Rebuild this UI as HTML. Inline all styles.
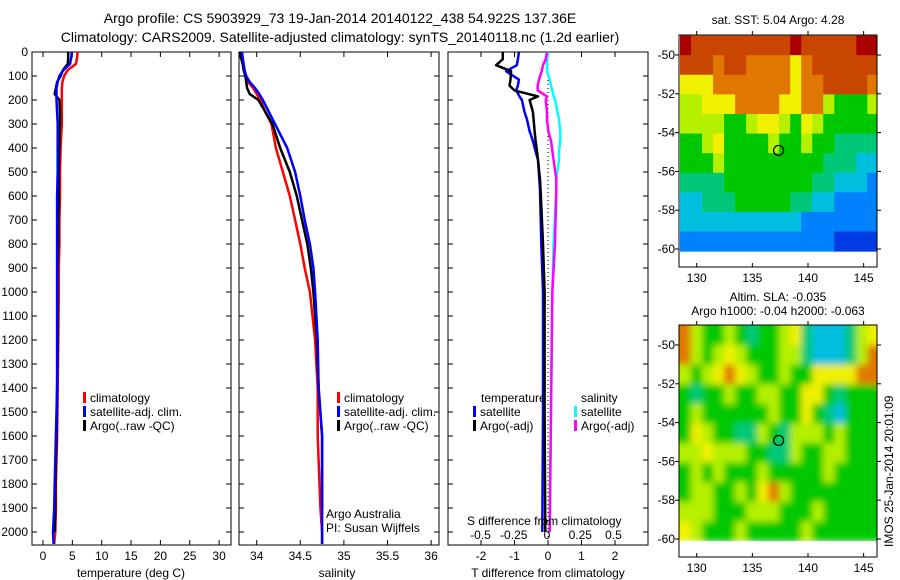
<!DOCTYPE html>
<html><head><meta charset="utf-8"><style>
body{margin:0;background:#fff}
svg{display:block;font-family:"Liberation Sans",sans-serif}
text{font-size:12px;fill:#000}
</style></head><body>
<svg id="c" width="900" height="580" viewBox="0 0 900 580">
<defs>
<filter id="blur" x="-5%" y="-5%" width="110%" height="110%"><feGaussianBlur stdDeviation="3.5"/></filter>
<clipPath id="clipSla"><rect x="679" y="325" width="198" height="232"/></clipPath>
</defs>
<text x="340" y="23" text-anchor="middle" style="font-size:14px">Argo profile: CS 5903929_73 19-Jan-2014 20140122_438 54.922S 137.36E</text>
<text x="340" y="42" text-anchor="middle" style="font-size:14px">Climatology: CARS2009. Satellite-adjusted climatology: synTS_20140118.nc (1.2d earlier)</text>
<text x="778" y="24" text-anchor="middle">sat. SST: 5.04  Argo: 4.28</text>
<text x="778" y="301" text-anchor="middle">Altim. SLA: -0.035</text>
<text x="778" y="315" text-anchor="middle">Argo h1000: -0.04 h2000: -0.063</text>
<text transform="translate(893,547) rotate(-90)">IMOS 25-Jan-2014 20:01:09</text>
</svg>
<script>
// ---- data ----
const depths=[0,25,50,75,100,125,150,175,200,250,300,400,500,600,700,800,900,1000,1200,1400,1600,1800,1900,2000,2050];
const tClim=[5.9,5.8,5.6,4.2,3.6,3.3,3.2,3.2,3.2,3.2,3.2,3.0,2.9,2.9,2.8,2.8,2.7,2.7,2.6,2.5,2.4,2.2,2.2,2.1,1.9];
const tSat=[4.9,4.8,4.6,3.5,2.8,2.5,2.3,2.3,2.3,2.4,2.5,2.5,2.5,2.4,2.4,2.4,2.4,2.4,2.4,2.4,2.2,2.0,1.9,1.7,1.8];
const tArgo=[4.3,4.3,4.2,3.4,3.0,2.4,2.2,2.0,2.8,2.9,2.9,2.8,2.7,2.7,2.6,2.6,2.5,2.5,2.5,2.4,2.3,2.1,2.1,2.0,null];
const sClim=[33.83,33.84,33.85,33.86,33.87,33.9,33.96,34.0,34.04,34.1,34.17,34.22,34.30,34.38,34.44,34.50,34.55,34.61,34.67,34.70,34.70,34.72,34.73,34.75,34.75];
const sSat=[33.83,33.84,33.85,33.86,33.88,33.92,33.98,34.03,34.07,34.14,34.21,34.35,34.44,34.50,34.55,34.61,34.65,34.67,34.70,34.71,34.75,34.75,34.75,34.75,34.75];
const sArgo=[33.8,33.82,33.84,33.85,33.87,33.88,33.89,33.92,34.02,34.10,34.18,34.27,34.38,34.46,34.52,34.58,34.62,34.65,34.69,34.71,34.75,34.75,34.75,null,null];
const dDepths=[0,30,55,80,115,140,160,185,200,250,280,330,370,410,450,530,575,800,1000,1500,2000];
const dTSat=[-0.87,-0.9,-0.93,-1.25,-0.87,-0.9,-0.95,-0.85,-0.78,-0.7,-0.63,-0.55,-0.45,-0.38,-0.3,-0.26,-0.24,-0.2,-0.15,-0.15,-0.17];
const dTArgo=[-1.35,-1.35,-1.55,-1.1,-1.12,-1.15,-1.0,-0.3,-0.55,-0.45,-0.43,-0.4,-0.37,-0.33,-0.3,-0.24,-0.22,-0.15,-0.1,-0.1,-0.08];
const dSSat=[0.01,0.0,0.0,0.0,0.02,0.03,0.04,0.05,0.06,0.08,0.09,0.1,0.1,0.09,0.09,0.07,0.07,0.05,0.04,0.03,0.02];
const dSArgo=[0.0,-0.01,-0.03,-0.04,-0.06,-0.07,-0.07,0.0,-0.01,0.0,0.0,0.01,0.03,0.04,0.05,0.07,0.07,0.06,0.04,0.03,0.02];
const depthTicks=[0,100,200,300,400,500,600,700,800,900,1000,1100,1200,1300,1400,1500,1600,1700,1800,1900,2000];
const tTicks=[0,5,10,15,20,25,30];
const sTicks=[34,34.5,35,35.5,36];
const sTickLabels=["34","34.5","35","35.5","36"];
const dTTicks=[-2,-1,0,1,2];
const dSTicks=[-0.5,-0.25,0,0.25,0.5];
const dSTickLabels=["-0.5","-0.25","0","0.25","0.5"];
const lonTicks=[130,135,140,145];
const latTicks=[-50,-52,-54,-56,-58,-60];
const sstGrid=[
[10,9,9,9,9,9,9,9,9,9,10,9,9,9,9,9,10,10],
[9,9,9,8,9,9,8,8,8,8,7,8,9,9,9,9,9,9],
[7,7,7,8,8,8,8,8,8,8,7,8,8,9,9,9,9,8],
[6,6,7,7,7,8,8,8,8,7,7,8,8,6,5,5,5,6],
[6,6,6,6,5,5,6,7,7,6,5,7,6,5,5,5,5,5],
[5,5,6,7,5,5,5,5,6,5,5,6,5,5,4,4,4,4],
[5,5,5,6,5,5,5,5,5,5,5,5,5,4,4,4,3,3],
[4,4,4,4,5,5,5,5,5,5,5,5,4,4,3,3,3,2],
[3,3,4,4,4,5,5,5,5,5,4,4,3,3,2,2,2,2],
[3,3,3,3,3,3,3,3,3,3,3,2,2,2,2,2,2,2],
[2,2,2,2,2,2,2,2,2,2,2,2,2,2,1,1,1,1]];
const slaGrid=[
[8,6,5,5,6,5,4,5,5,6,7,4,3,3,3,4,6,7],
[8,6,5,6,7,6,5,5,5,6,6,4,3,3,3,4,6,8],
[6,5,6,7,8,7,6,5,5,6,5,5,7,7,7,7,8,8],
[5,4,5,5,6,5,5,6,6,5,5,7,7,5,4,5,5,5],
[5,6,5,5,5,5,5,5,6,5,5,7,5,4,3,5,5,5],
[5,7,6,5,5,4,4,6,5,4,6,6,6,5,6,5,5,5],
[6,6,7,6,6,6,5,5,4,4,6,5,5,6,6,5,5,5],
[5,6,5,6,5,5,5,6,5,5,5,5,5,6,5,5,5,5],
[5,6,6,5,5,6,5,7,8,6,5,5,5,5,5,5,5,5],
[6,6,6,5,5,5,6,6,6,5,5,5,6,5,5,5,5,5],
[7,6,5,5,5,6,5,5,5,5,5,6,5,5,5,5,5,5]];
const argoLon=137.36, argoLat=-54.92;
const gridLon0=128.5, gridLat0=-49, gridStep=[0.99,1.01];

const svg=document.getElementById('c');
const NS='http://www.w3.org/2000/svg';
function mk(t,a,p){const e=document.createElementNS(NS,t);for(const k in a)e.setAttribute(k,a[k]);(p||svg).appendChild(e);return e;}
const cmap=['#0000a0','#003ce6','#0082ff','#00bede','#00c878','#00c800','#b4f000','#f0f000','#e07800','#c84600','#aa0000'];

const pTop=52, depthY=d=>pTop+d*0.24;
const panels=[
 {x0:32,x1:231,fx:v=>43+v*5.87,name:'temperature-panel'},
 {x0:239,x1:439,fx:v=>256.7+(v-34)*87.2,name:'salinity-panel'},
 {x0:448,x1:648,fx:v=>548+v*33.5,name:'difference-panel'}];
const pBottom=545;
function line(p,ds,vs,col,name,w,fx){
 let d='';let pen=false;
 ds.forEach((dd,i)=>{if(vs[i]==null){pen=false;return;}d+=(pen?'L':'M')+fx(vs[i]).toFixed(1)+','+depthY(dd).toFixed(1);pen=true;});
 const e=mk('path',{d:d,fill:'none',stroke:col,'stroke-width':w||2.5,'stroke-linejoin':'round'});
 
 
}
panels.forEach((p,pi)=>{
 const r=mk('rect',{x:p.x0,y:pTop,width:p.x1-p.x0,height:pBottom-pTop,fill:'none',stroke:'#000','stroke-width':1});
 
 
 depthTicks.forEach(d=>{const y=depthY(d);mk('line',{x1:p.x0,x2:p.x0+5,y1:y,y2:y,stroke:'#000'});mk('line',{x1:p.x1-5,x2:p.x1,y1:y,y2:y,stroke:'#000'});
  if(pi==0){const t=mk('text',{x:28,y:y+4,'text-anchor':'end'});t.textContent=d;}});
});
const fT=panels[0].fx;
tTicks.forEach(v=>{const x=fT(v);mk('line',{x1:x,x2:x,y1:pBottom,y2:pBottom-5,stroke:'#000'});mk('line',{x1:x,x2:x,y1:pTop,y2:pTop+5,stroke:'#000'});
 const t=mk('text',{x:x,y:560,'text-anchor':'middle'});t.textContent=v;});
line(0,depths,tClim,'#f00','temp-climatology-line',2.5,fT);
line(0,depths,tArgo,'#000','temp-argo-line',2.5,fT);
line(0,depths,tSat,'#00f','temp-satellite-line',2.5,fT);
const fS=panels[1].fx;
sTicks.forEach((v,i)=>{const x=fS(v);mk('line',{x1:x,x2:x,y1:pBottom,y2:pBottom-5,stroke:'#000'});mk('line',{x1:x,x2:x,y1:pTop,y2:pTop+5,stroke:'#000'});
 const t=mk('text',{x:x,y:560,'text-anchor':'middle'});t.textContent=sTickLabels[i];});
line(1,depths,sClim,'#f00','salinity-climatology-line',2.5,fS);
line(1,depths,sArgo,'#000','salinity-argo-line',2.5,fS);
line(1,depths,sSat,'#00f','salinity-satellite-line',2.5,fS);
const fD=panels[2].fx, fDS=v=>547+v*133;
dTTicks.forEach(v=>{const x=fD(v);mk('line',{x1:x,x2:x,y1:pBottom,y2:pBottom-5,stroke:'#000'});mk('line',{x1:x,x2:x,y1:pTop,y2:pTop+5,stroke:'#000'});
 const t=mk('text',{x:x,y:560,'text-anchor':'middle'});t.textContent=v;});
dSTicks.forEach((v,i)=>{const t=mk('text',{x:fDS(v),y:539,'text-anchor':'middle'});t.textContent=dSTickLabels[i];});
mk('line',{x1:fD(0),x2:fD(0),y1:pTop,y2:pBottom,stroke:'#000','stroke-dasharray':'1,3'});
line(2,dDepths,dTSat,'#00f','tdiff-satellite-line',2.5,fD);
line(2,dDepths,dTArgo,'#000','tdiff-argo-line',2.5,fD);
line(2,dDepths,dSSat,'#0ff','sdiff-satellite-line',2.5,fDS);
line(2,dDepths,dSArgo,'#f0f','sdiff-argo-line',2.5,fDS);

function txt(x,y,s,name,anchor){const t=mk('text',{x:x,y:y,'text-anchor':anchor||'start'});t.textContent=s;return t;}
function leg(x,y,col,s,name){mk('rect',{x:x,y:y-10,width:3,height:11,fill:col});txt(x+7,y,s,name);}
leg(83,402,'#f00','climatology','legend-climatology');
leg(83,416,'#00f','satellite-adj. clim.','legend-satellite-adj');
leg(83,430,'#000','Argo(..raw -QC)','legend-argo');
leg(337,402,'#f00','climatology','legend-climatology-2');
leg(337,416,'#00f','satellite-adj. clim.','legend-satellite-adj-2');
leg(337,430,'#000','Argo(..raw -QC)','legend-argo-2');
txt(481,402,'temperature','legend-temperature-header');
txt(581,402,'salinity','legend-salinity-header');
leg(473,416,'#00f','satellite','legend-tdiff-satellite');
leg(473,430,'#000','Argo(-adj)','legend-tdiff-argo');
leg(574,416,'#0ff','satellite','legend-sdiff-satellite');
leg(574,430,'#f0f','Argo(-adj)','legend-sdiff-argo');
txt(326,518,'Argo Australia','credit-argo-australia');
txt(326,532,'PI: Susan Wijffels','credit-pi');
txt(467,525,'S difference from climatology','sdiff-axis-title');
txt(131,577,'temperature (deg C)','temp-axis-title','middle');
txt(337,577,'salinity','salinity-axis-title','middle');
txt(548,577,'T difference from climatology','tdiff-axis-title','middle');

function map(y0,y1,grid,name,smooth){
 const x0=679,x1=877;
 const lx=v=>696.7+(v-130)*11.13, ly=v=>(y0+20)+(-50-v)*19.4;
 const outer=mk('g',{});
 if(smooth) outer.setAttribute('clip-path','url(#clipSla)');
 const g=mk('g',smooth?{filter:'url(#blur)'}:{},outer);
 grid.forEach((row,ri)=>row.forEach((v,ci)=>{
  const la=gridLat0-ri*gridStep[1], lo=gridLon0+ci*gridStep[0];
  let xa=lx(lo), xb=lx(lo+gridStep[0])+0.5, ya=ly(la), yb=ly(la-gridStep[1])+0.5;
  if(!smooth){xa=Math.max(x0,xa);xb=Math.min(xb,x1);ya=Math.max(y0,ya);}
  else{if(ci==0)xa-=10;if(ci==row.length-1)xb+=10;if(ri==0)ya-=10;}
  const c=mk('rect',{x:xa,y:ya,width:Math.max(0,xb-xa),height:yb-ya,fill:cmap[v]},g);
  
  
 }));
 if(smooth){mk('rect',{x:x0,y:ly(gridLat0-grid.length*gridStep[1]),width:x1-x0,height:40,fill:'#fff'},outer);}
 mk('rect',{x:x0,y:y0,width:x1-x0,height:y1-y0,fill:'none',stroke:'#000'});
 lonTicks.forEach(v=>{const x=lx(v);mk('line',{x1:x,x2:x,y1:y1,y2:y1-4,stroke:'#000'});mk('line',{x1:x,x2:x,y1:y0,y2:y0-4,stroke:'#000'});
  txt(x,y1+15,String(v),'lon-tick-label','middle');});
 latTicks.forEach(v=>{const y=ly(v);mk('line',{x1:x0,x2:x0-4,y1:y,y2:y,stroke:'#000'});mk('line',{x1:x1,x2:x1+4,y1:y,y2:y,stroke:'#000'});
  txt(x0-4,y+4,String(v),'lat-tick-label','end');});
 const m=mk('circle',{cx:lx(argoLon),cy:ly(argoLat),r:5,fill:'none',stroke:'#000','stroke-width':1.2});
 
 
}
map(35,267,sstGrid,'sst-map',false);
map(325,557,slaGrid,'sla-map',true);
</script>
</body></html>
